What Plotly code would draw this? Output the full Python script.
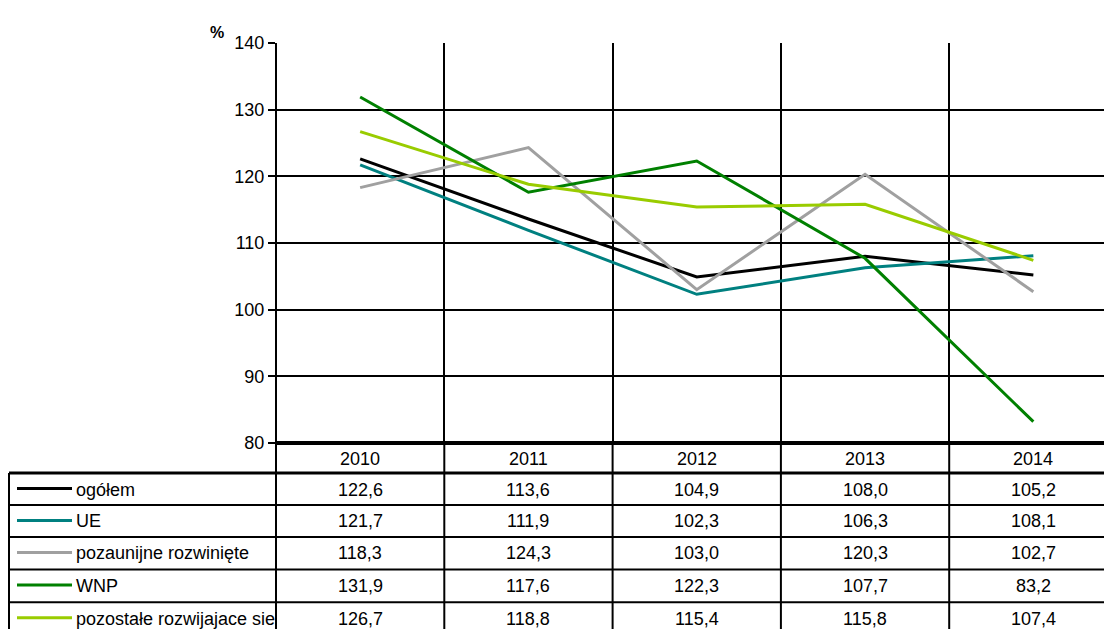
import plotly.graph_objects as go

years = ["2010", "2011", "2012", "2013", "2014"]
series_names = ["ogółem", "UE", "pozaunijne rozwinięte", "WNP", "pozostałe rozwijajace sie"]
ogolem = [122.6, 113.6, 104.9, 108.0, 105.2]
ue = [121.7, 111.9, 102.3, 106.3, 108.1]
pozaunijne = [118.3, 124.3, 103.0, 120.3, 102.7]
wnp = [131.9, 117.6, 122.3, 107.7, 83.2]
pozostale = [126.7, 118.8, 115.4, 115.8, 107.4]
series_values = [ogolem, ue, pozaunijne, wnp, pozostale]
colors = ["#000000", "#008080", "#A0A0A0", "#008000", "#99CC00"]
y_ticks = [80, 90, 100, 110, 120, 130, 140]

W, H = 1104, 639
FONT = "Liberation Sans, Arial, sans-serif"

def px(x):
    return x / W

def py(y):
    return 1 - y / H

plot_left, plot_top, plot_bottom = 276, 34, 447
x_idx = list(range(len(years)))

fig = go.Figure()
for name, vals, col in zip(series_names, series_values, colors):
    fig.add_trace(go.Scatter(x=x_idx, y=vals, mode="lines", name=name,
                             line=dict(color=col, width=3), showlegend=False))

x_max = -0.5 + (W - plot_left) / 168.3

fig.update_layout(
    autosize=True,
    margin=dict(l=0, r=0, t=0, b=0),
    paper_bgcolor="white", plot_bgcolor="white",
    font=dict(family=FONT, size=18, color="#000000"),
    xaxis=dict(domain=[px(plot_left), 1], range=[-0.5, x_max],
               tickvals=[0.5, 1.5, 2.5, 3.5], showticklabels=False,
               showgrid=True, gridcolor="#000000", gridwidth=2,
               zeroline=False, showline=False, ticks=""),
    yaxis=dict(domain=[py(plot_bottom), py(plot_top)], range=[80, 140],
               tickvals=y_ticks, ticktext=[str(v) for v in y_ticks],
               showgrid=True, gridcolor="#000000", gridwidth=2,
               zeroline=False, showline=False,
               ticks="outside", ticklen=7, tickwidth=2, tickcolor="#000000",
               tickfont=dict(family=FONT, size=18, color="#000000")),
)

shapes = []
shapes.append(dict(type="line", xref="paper", yref="paper",
                   x0=px(plot_left), x1=px(plot_left), y0=py(plot_top), y1=0,
                   line=dict(color="#000000", width=2)))
for b in [0.5, 1.5, 2.5, 3.5]:
    shapes.append(dict(type="line", xref="x", yref="paper", x0=b, x1=b,
                       y0=py(plot_bottom), y1=0, line=dict(color="#000000", width=2)))
shapes.append(dict(type="line", xref="paper", yref="paper", x0=px(plot_left), x1=1,
                   y0=py(plot_bottom), y1=py(plot_bottom), line=dict(color="#000000", width=4)))
row_lines = [478, 511, 544, 577.5, 611.5]
for i, ry in enumerate(row_lines):
    shapes.append(dict(type="line", xref="paper", yref="paper", x0=px(9), x1=1,
                       y0=py(ry), y1=py(ry), line=dict(color="#000000", width=3 if i == 0 else 2)))
shapes.append(dict(type="line", xref="paper", yref="paper", x0=px(9), x1=px(9),
                   y0=py(478), y1=0, line=dict(color="#000000", width=2)))

annotations = []
for i, yr in enumerate(years):
    annotations.append(dict(x=i, xref="x", y=py(464), yref="paper", text=yr,
                            showarrow=False, xanchor="center", yanchor="middle",
                            font=dict(family=FONT, size=18)))
row_tops = [478, 511, 544, 577.5, 611.5]
for r, (name, vals, col) in enumerate(zip(series_names, series_values, colors)):
    cy = row_tops[r] + 17
    shapes.append(dict(type="line", xref="paper", yref="paper", x0=px(17), x1=px(72),
                       y0=py(cy - 1), y1=py(cy - 1), line=dict(color=col, width=3)))
    annotations.append(dict(x=px(74), xref="paper", y=py(cy), yref="paper", text=name,
                            showarrow=False, xanchor="left", yanchor="middle",
                            font=dict(family=FONT, size=18)))
    for i, v in enumerate(vals):
        annotations.append(dict(x=i, xref="x", y=py(cy), yref="paper",
                                text=f"{v:.1f}".replace(".", ","),
                                showarrow=False, xanchor="center", yanchor="middle",
                                font=dict(family=FONT, size=18)))
annotations.append(dict(x=px(217), xref="paper", y=py(23), yref="paper", text="<b>%</b>",
                        showarrow=False, xanchor="center", yanchor="middle",
                        font=dict(family=FONT, size=16)))

fig.update_layout(shapes=shapes, annotations=annotations)
fig.write_html(
    "out.html",
    config={"displayModeBar": False, "responsive": True},
    default_width="100vw",
    default_height="100vh",
    post_script=(
        "document.documentElement.style.margin='0';"
        "document.body.style.margin='0';"
        "document.documentElement.style.overflow='hidden';document.body.style.overflow='hidden';"
        "window.dispatchEvent(new Event('resize'));"
    ),
)
